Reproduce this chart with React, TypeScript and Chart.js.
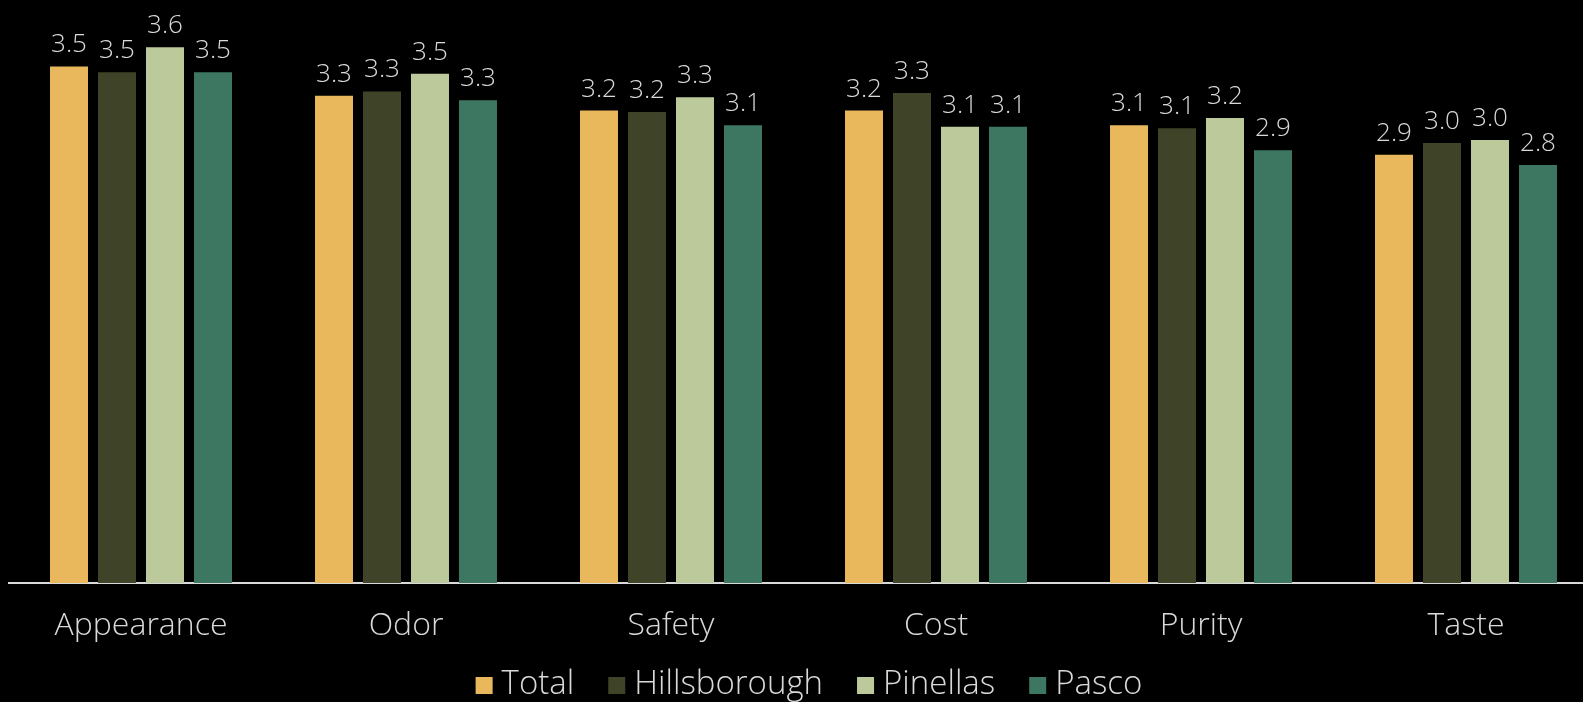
import React, { useEffect, useRef } from "react";
import { Chart, registerables } from "chart.js";

Chart.register(...registerables);

const categories = ["Appearance", "Odor", "Safety", "Cost", "Purity", "Taste"];
const seriesNames = ["Total", "Hillsborough", "Pinellas", "Pasco"];
const totalValues = [3.51, 3.31, 3.21, 3.21, 3.11, 2.91];
const hillsboroughValues = [3.47, 3.34, 3.2, 3.33, 3.09, 2.99];
const pinellasValues = [3.64, 3.46, 3.3, 3.1, 3.16, 3.01];
const pascoValues = [3.47, 3.28, 3.11, 3.1, 2.94, 2.84];
const seriesColors = ["#E9B85C", "#3F4429", "#BCCA9B", "#3D7762"];

const FONT = "'Open Sans', 'Lato', sans-serif";
const TEXT_COLOR = "#D9D9D9";

const valueLabelPlugin = {
  id: "valueLabels",
  afterDatasetsDraw(chart: any) {
    const ctx = chart.ctx;
    ctx.save();
    ctx.font = `300 26px ${FONT}`;
    ctx.fillStyle = TEXT_COLOR;
    ctx.textAlign = "center";
    ctx.textBaseline = "alphabetic";
    chart.data.datasets.forEach((ds: any, i: number) => {
      const meta = chart.getDatasetMeta(i);
      meta.data.forEach((el: any, j: number) => {
        const v = ds.data[j] as number;
        ctx.fillText(v.toFixed(1), el.x, el.y - 14);
      });
    });
    ctx.restore();
  },
};

const customLegendPlugin = {
  id: "customLegend",
  afterDraw(chart: any) {
    const ctx = chart.ctx;
    ctx.save();
    ctx.font = `300 33px ${FONT}`;
    ctx.textBaseline = "alphabetic";
    ctx.textAlign = "left";
    const box = 17;
    const gap = 9;
    const spacing = 34;
    const items = chart.data.datasets.map((ds: any) => ({
      label: ds.label,
      color: ds.backgroundColor,
      w: ctx.measureText(ds.label).width,
    }));
    const total =
      items.reduce((s: number, it: any) => s + box + gap + it.w, 0) +
      spacing * (items.length - 1);
    let x = 809 - total / 2;
    const baseline = 694;
    items.forEach((it: any) => {
      ctx.fillStyle = it.color;
      ctx.fillRect(x, baseline - box, box, box);
      ctx.fillStyle = TEXT_COLOR;
      ctx.fillText(it.label, x + box + gap, baseline);
      x += box + gap + it.w + spacing;
    });
    ctx.restore();
  },
};

export default function App() {
  const canvasRef = useRef<HTMLCanvasElement | null>(null);

  useEffect(() => {
    if (!canvasRef.current) return;
    const allValues = [totalValues, hillsboroughValues, pinellasValues, pascoValues];
    const chart = new Chart(canvasRef.current, {
      type: "bar",
      data: {
        labels: categories,
        datasets: seriesNames.map((name, i) => ({
          label: name,
          data: allValues[i],
          backgroundColor: seriesColors[i],
          borderWidth: 0,
          categoryPercentage: 0.7245,
          barPercentage: 0.7917,
        })),
      },
      options: {
        animation: false,
        responsive: false,
        maintainAspectRatio: false,
        devicePixelRatio: 1,
        layout: { padding: { top: 9, left: 8.5, right: 19.5, bottom: 0 } },
        plugins: {
          legend: { display: false },
          tooltip: { enabled: false },
        },
        scales: {
          x: {
            grid: { display: false, drawTicks: false },
            border: { display: true, color: TEXT_COLOR, width: 2 },
            ticks: {
              color: TEXT_COLOR,
              padding: 24,
              font: { family: FONT, size: 32, weight: "300" },
            },
            afterFit: (scale: any) => {
              scale.height = 119;
            },
          },
          y: {
            display: false,
            min: 0,
            max: 3.9,
          },
        },
      },
      plugins: [valueLabelPlugin, customLegendPlugin],
    });
    return () => chart.destroy();
  }, []);

  return (
    <div
      style={{
        position: "fixed",
        left: 0,
        top: 0,
        width: 1583,
        height: 702,
        overflow: "hidden",
        background: "#000",
      }}
    >
      <canvas
        ref={canvasRef}
        width={1618}
        height={702}
        style={{ display: "block", width: 1618, height: 702 }}
      />
    </div>
  );
}
